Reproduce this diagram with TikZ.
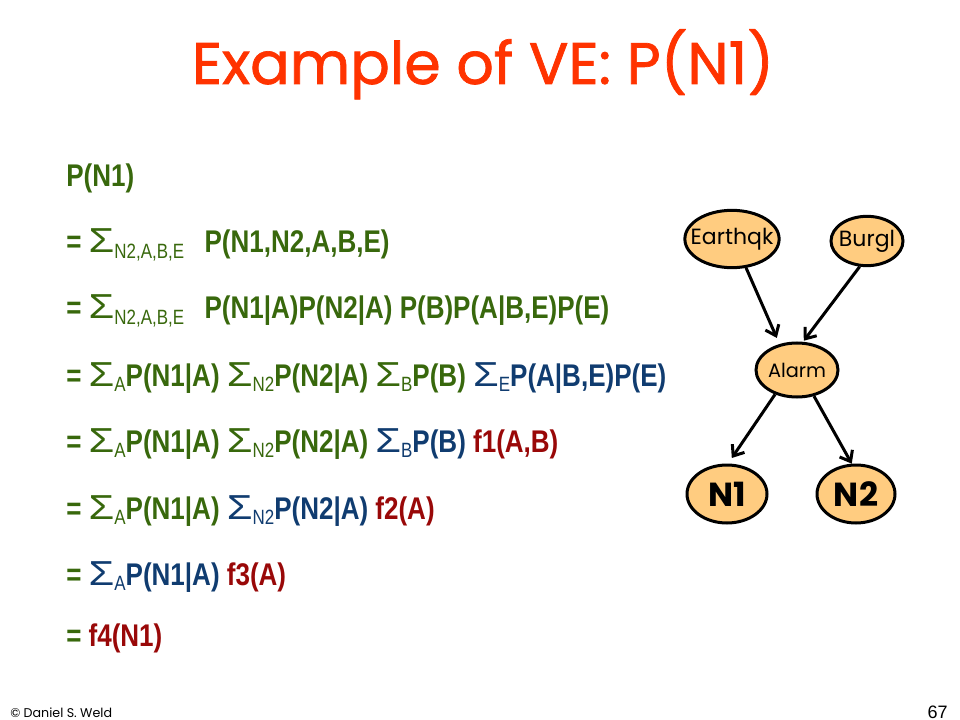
\documentclass[tikz,border=0pt]{standalone}
\usepackage{fontspec}
\usetikzlibrary{shapes.geometric,arrows.meta}
\setmainfont{Liberation Sans}
\newfontfamily\eqfont[FakeStretch=0.83]{Liberation Sans Bold}
\newfontfamily\subfont[FakeStretch=0.82]{Liberation Sans}
\newfontfamily\sumfont{Liberation Sans}
\newfontfamily\handfont{Poppins}
\newfontfamily\headfont[FakeBold=1.2]{Poppins}
\definecolor{titlered}{RGB}{255,51,0}
\definecolor{eqgreen}{RGB}{56,104,12}
\definecolor{eqblue}{RGB}{16,60,112}
\definecolor{eqred}{RGB}{153,8,8}
\definecolor{nodefill}{RGB}{255,204,128}
% sum sign with a lowered index
\newcommand{\vsum}[1]{\scalebox{1.2}[1]{\sumfont\fontsize{26}{26}\selectfont Σ}\raisebox{-0.16em}{\subfont\fontsize{15.5}{16}\selectfont #1}}
\begin{document}
\begin{tikzpicture}[x=0.75pt,y=-0.75pt,
    eqline/.style={anchor=base west,inner sep=0pt,text=eqgreen,font=\eqfont\fontsize{23.5}{24}\selectfont},
    bnode/.style={ellipse,draw,line width=2.25pt,fill=nodefill,inner sep=0pt,font=\handfont\fontsize{14.5}{15}\selectfont},
    arr/.style={line width=2.25pt,-{Straight Barb[length=7pt,width=11pt]}}]
    \useasboundingbox[fill=white] (0,0) rectangle (960,720);
    \node[anchor=base,text=titlered,font=\headfont\fontsize{44}{44}\selectfont] (title) at (483,84) {Example of VE: P(N1)};
    % the derivation
    \node[eqline] (l1) at (66,187) {P(N1)};
    \node[eqline] (l2) at (66,253) {= \vsum{N2,A,B,E}\hspace{10pt} P(N1,N2,A,B,E)};
    \node[eqline] (l3) at (66,319) {= \vsum{N2,A,B,E}\hspace{10pt} P(N1|A)P(N2|A) P(B)P(A|B,E)P(E)};
    \node[eqline] (l4) at (66,386) {= \vsum{A}P(N1|A) \vsum{N2}P(N2|A) \vsum{B}P(B) {\color{eqblue}\vsum{E}P(A|B,E)P(E)}};
    \node[eqline] (l5) at (66,452) {= \vsum{A}P(N1|A) \vsum{N2}P(N2|A) {\color{eqblue}\vsum{B}P(B)} {\color{eqred}f1(A,B)}};
    \node[eqline] (l6) at (66,519) {= \vsum{A}P(N1|A) {\color{eqblue}\vsum{N2}P(N2|A)} {\color{eqred}f2(A)}};
    \node[eqline] (l7) at (66,585) {= {\color{eqblue}\vsum{A}P(N1|A)} {\color{eqred}f3(A)}};
    \node[eqline] (l8) at (66,646) {= {\color{eqred}f4(N1)}};
    % the network
    \node[bnode,inner sep=-6pt,minimum width=66pt,minimum height=43pt,font=\handfont\fontsize{16.5}{17}\selectfont] (earth) at (732,239) {Earthqk};
    \node[bnode,inner sep=-6pt,minimum width=54pt,minimum height=37pt,font=\handfont\fontsize{16.5}{17}\selectfont] (burgl) at (867,241) {Burgl};
    \node[bnode,minimum width=49.5pt,minimum height=40.5pt] (alarm) at (797,370) {Alarm};
    \node[bnode,minimum width=60pt,minimum height=43.5pt,font=\handfont\bfseries\fontsize{25}{25}\selectfont] (n1) at (727,494) {N1};
    \node[bnode,minimum width=58.5pt,minimum height=43.5pt,font=\handfont\bfseries\fontsize{25}{25}\selectfont] (n2) at (856,494) {N2};
    \draw[arr,shorten >=5pt] (earth.-64) -- (alarm.124);
    \draw[arr,shorten >=1pt] (burgl.-106) -- (alarm.78);
    \draw[arr,shorten >=5pt] (alarm.-132) -- (n1.88);
    \draw[arr] (alarm.-57) -- (n2.98);
    % footer
    \node[anchor=base west,inner sep=0pt,font=\handfont\fontsize{9.5}{10}\selectfont] (credit) at (10,717) {© Daniel S. Weld};
    \node[anchor=base east,inner sep=0pt,font=\fontsize{13.5}{14}\selectfont] (page) at (948,718) {67};
\end{tikzpicture}
\end{document}
